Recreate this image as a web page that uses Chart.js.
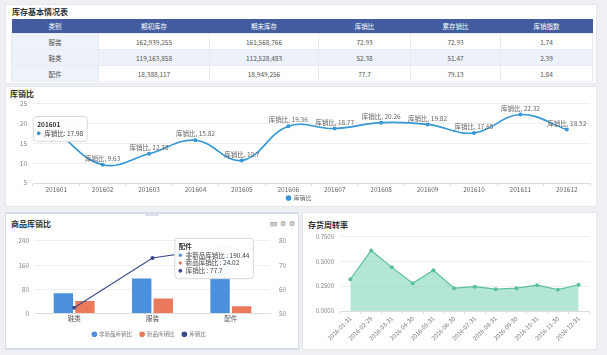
<!DOCTYPE html>
<html><head><meta charset="utf-8">
<script src="https://cdn.jsdelivr.net/npm/chart.js@4"></script>
<style>
body{margin:0;width:607px;height:355px;background:#eff0f3;font-family:"Noto Sans CJK SC","Noto Sans",sans-serif;position:relative;overflow:hidden}
.panel{position:absolute;background:#fff;border:1px solid #e6e7ea;box-sizing:border-box}
.title{position:absolute;font-size:8px;color:#333;font-weight:bold;line-height:10px;white-space:nowrap}
table{position:absolute;left:11px;top:19px;border-collapse:collapse;table-layout:fixed;font-size:6.5px;color:#555}
th{background:#425c9f;color:#fff;font-weight:normal;height:14px;padding:0;text-align:center}
td{height:15px;padding:0;text-align:center;border:1px solid #e8ebf2}
td.first{background:#eef2fa}
tr.alt td{background:#edf1fa}
canvas{position:absolute}
.icons{position:absolute;font-size:7px;color:#888;letter-spacing:3px}
.handle{position:absolute;left:145px;top:213px;width:14px;height:3px;background:#d9dde6;border-radius:2px}
</style></head><body>
<div class="panel" style="left:5px;top:4px;width:592px;height:80px"></div>
<div class="panel" style="left:5px;top:86px;width:592px;height:121px"></div>
<div class="panel" style="left:5px;top:212px;width:294px;height:138px;border-color:#d5dbe8;border-width:2px 1px"></div>
<div class="panel" style="left:302px;top:212px;width:295px;height:138px"></div>
<div class="handle"></div>
<div class="title" style="left:12px;top:7px">库存基本情况表</div>
<div class="title" style="left:10px;top:89px">库销比</div>
<div class="title" style="left:11px;top:219px">商品库销比</div>
<div class="title" style="left:308px;top:220px">存货周转率</div>
<div class="icons" style="left:270px;top:218px">㎜⚙⚙</div>
<table id="tbl"></table>
<canvas id="cA" width="588" height="117" style="left:8px;top:94px;width:588px;height:117px"></canvas>
<canvas id="cC" width="292" height="121" style="left:6px;top:228px;width:292px;height:121px"></canvas>
<canvas id="cD" width="294" height="122" style="left:303px;top:227px;width:294px;height:122px"></canvas>
<script>
// ---- table data ----
const tableHeaders = ["类别","期初库存","期末库存","库销比","累存销比","库销指数"];
const tableCategories = ["服装","鞋类","配件"];
const openingStock = ["162,939,255","119,163,858","18,388,117"];
const closingStock = ["161,568,766","112,528,483","18,949,256"];
const stockSalesRatio = ["72.93","52.38","77.7"];
const cumStockSalesRatio = ["72.93","51.47","79.13"];
const stockSalesIndex = ["1.74","2.39","1.84"];

// ---- monthly 库销比 ----
const months = ["201601","201602","201603","201604","201605","201606","201607","201608","201609","201610","201611","201612"];
const monthlyRatio = [17.98,9.63,12.38,15.82,10.7,19.36,18.77,20.26,19.82,17.65,22.32,18.52];

// ---- 商品库销比 ----
const productCats = ["鞋类","服装","配件"];
const nonNewRatio = [67,116,190.44];
const newRatio = [41,50,24.02];
const totalRatio = [52.38,72.93,77.7];

// ---- 存货周转率 ----
const turnoverDates = ["2016-01-31","2016-02-29","2016-03-31","2016-04-30","2016-05-31","2016-06-30","2016-07-31","2016-08-31","2016-09-30","2016-10-31","2016-11-30","2016-12-31"];
const turnoverRate = [0.32,0.61,0.44,0.28,0.41,0.23,0.245,0.22,0.23,0.26,0.215,0.265];

// build table
const colW = [87,111,109,92,90,92];
const tbl = document.getElementById('tbl');
let html = '<colgroup>' + colW.map(w=>`<col style="width:${w}px">`).join('') + '</colgroup>';
html += '<tr>' + tableHeaders.map(h=>`<th>${h}</th>`).join('') + '</tr>';
tableCategories.forEach((c,i)=>{
  html += `<tr class="${i===1?'alt':''}"><td class="first">${c}</td><td>${openingStock[i]}</td><td>${closingStock[i]}</td><td>${stockSalesRatio[i]}</td><td>${cumStockSalesRatio[i]}</td><td>${stockSalesIndex[i]}</td></tr>`;
});
tbl.innerHTML = html;

Chart.defaults.font.family = '"Noto Sans CJK SC","Noto Sans",sans-serif';
Chart.defaults.animation = false;

Chart.Tooltip.positioners.anchorA = function(items){
  if(!items.length) return false;
  const el = items[0].element;
  return {x: el.x - 20, y: el.y - 15};
};
Chart.Tooltip.positioners.anchorC = function(items){
  if(!items.length) return false;
  const el = items[items.length-1].element;
  return {x: el.x - 53, y: el.y - 8};
};

const tipStyle = {
  backgroundColor:'rgba(255,255,255,0.96)', borderColor:'#d8d8d8', borderWidth:1,
  titleColor:'#333', bodyColor:'#444', titleFont:{size:6.5,weight:'bold'}, bodyFont:{size:6.5},
  padding:4, caretSize:0, caretPadding:0, cornerRadius:3, usePointStyle:true,
  boxWidth:3, boxHeight:3, boxPadding:2, bodySpacing:0, titleMarginBottom:1, xAlign:'left', yAlign:'top'
};

const valueLabels = {
  id:'valueLabels',
  afterDatasetsDraw(chart){
    const ctx = chart.ctx;
    const meta = chart.getDatasetMeta(0);
    ctx.save();
    ctx.font = '6.5px "Noto Sans CJK SC"';
    ctx.fillStyle = '#666';
    ctx.textAlign = 'center';
    ctx.textBaseline = 'bottom';
    meta.data.forEach((p,i)=>{
      ctx.fillText('库销比, ' + chart.data.datasets[0].data[i], p.x, p.y - 3);
    });
    ctx.restore();
  }
};

// Chart A
const lineBlue = '#3597d3';
const chartA = new Chart(document.getElementById('cA'), {
  type:'line',
  data:{labels:months, datasets:[{label:'库销比', data:monthlyRatio, borderColor:lineBlue, backgroundColor:lineBlue,
    borderWidth:1.6, tension:0.4, pointRadius:2, pointBackgroundColor:lineBlue, pointBorderWidth:0}]},
  options:{
    responsive:false, maintainAspectRatio:false,
    layout:{padding:{top:4,right:6,left:0,bottom:0}},
    scales:{
      x:{offset:true, grid:{display:true, drawOnChartArea:false, offset:true, tickLength:3, color:'#ddd'},
         border:{color:'#ddd'}, ticks:{font:{size:6.5}, color:'#666', padding:0}, afterFit(s){s.height=10;}},
      y:{min:5,max:25, ticks:{stepSize:5, font:{size:6.5}, color:'#888', padding:6},
         grid:{color:'#eeeeee', drawTicks:false}, border:{display:false},
         afterFit(s){s.width=25;}}
    },
    plugins:{
      legend:{position:'bottom', labels:{usePointStyle:true, pointStyle:'circle', boxWidth:4, boxHeight:4, font:{size:6}, color:'#666', padding:2}},
      tooltip:Object.assign({}, tipStyle, {position:'anchorA', callbacks:{label:(c)=>c.dataset.label+': '+c.raw}})
    }
  },
  plugins:[valueLabels]
});
chartA.tooltip.setActiveElements([{datasetIndex:0,index:0}], {x:0,y:0});
chartA.update();

// Chart C
const barBlue = '#4a90dc', barOrange = '#ea7a5b', navy = '#3c4a8c';
const chartC = new Chart(document.getElementById('cC'), {
  data:{labels:productCats, datasets:[
    {type:'bar', label:'非新品库销比', data:nonNewRatio, backgroundColor:barBlue, yAxisID:'y', categoryPercentage:0.55, barPercentage:0.9, order:2},
    {type:'bar', label:'新品库销比', data:newRatio, backgroundColor:barOrange, yAxisID:'y', categoryPercentage:0.55, barPercentage:0.9, order:2},
    {type:'line', label:'库销比', data:totalRatio, borderColor:navy, backgroundColor:navy, borderWidth:1.2, pointRadius:2, pointBorderWidth:0, yAxisID:'y1', order:1}
  ]},
  options:{
    responsive:false, maintainAspectRatio:false,
    layout:{padding:{top:0,right:6,left:0,bottom:2}},
    scales:{
      x:{grid:{display:false, drawTicks:false}, border:{color:'#ddd'}, ticks:{font:{size:6.5}, color:'#555', padding:1}, afterFit(s){s.height=10;}},
      y:{min:0,max:240, ticks:{stepSize:80, font:{size:6.5}, color:'#888', padding:6}, grid:{color:'#eeeeee', drawTicks:false}, border:{display:false}, afterFit(s){s.width=29;}},
      y1:{position:'right', min:50,max:80, ticks:{stepSize:10, font:{size:6.5}, color:'#888', padding:9}, grid:{display:false, drawTicks:false}, border:{display:false}, afterFit(s){s.width=22;}}
    },
    plugins:{
      legend:{position:'bottom', labels:{usePointStyle:true, pointStyle:'circle', boxWidth:4, boxHeight:4, font:{size:5.5}, color:'#777', padding:8, sort:(a,b)=>a.datasetIndex-b.datasetIndex}},
      tooltip:Object.assign({}, tipStyle, {mode:'index', position:'anchorC', itemSort:(a,b)=>a.datasetIndex-b.datasetIndex, callbacks:{label:(c)=>c.dataset.label+' : '+c.raw}})
    }
  }
});
chartC.tooltip.setActiveElements([{datasetIndex:0,index:2},{datasetIndex:1,index:2},{datasetIndex:2,index:2}], {x:0,y:0});
chartC.update();

// Chart D
const teal = '#5cbf9f';
new Chart(document.getElementById('cD'), {
  type:'line',
  data:{labels:turnoverDates, datasets:[{label:'存货周转率', data:turnoverRate, borderColor:teal, backgroundColor:'rgba(130,214,186,0.6)',
    fill:'origin', borderWidth:1.2, tension:0, pointRadius:2, pointBackgroundColor:teal, pointBorderWidth:0}]},
  options:{
    responsive:false, maintainAspectRatio:false,
    layout:{padding:{top:2,right:8,left:0,bottom:0}},
    scales:{
      x:{offset:true, grid:{display:true, drawOnChartArea:false, offset:true, tickLength:3, color:'#ddd'}, border:{color:'#ddd'},
         ticks:{font:{size:6}, color:'#777', maxRotation:45, minRotation:45, padding:1}, afterFit(s){s.height=38;}},
      y:{min:0,max:0.75, ticks:{stepSize:0.25, font:{size:6}, color:'#888', padding:6, callback:v=>v.toFixed(4)},
         grid:{color:'#eeeeee', drawTicks:false}, border:{display:false}, afterFit(s){s.width=37;}}
    },
    plugins:{legend:{display:false}, tooltip:{enabled:false}}
  }
});
</script>
</body></html>
